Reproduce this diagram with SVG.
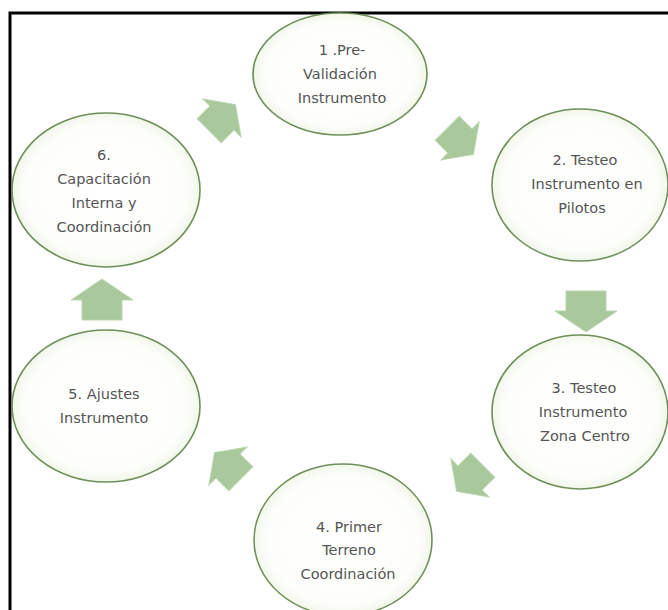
<svg xmlns="http://www.w3.org/2000/svg" width="668" height="610" viewBox="0 0 668 610">
<defs>
<radialGradient id="eg" cx="50%" cy="50%" r="50%">
<stop offset="0" stop-color="#ffffff"/>
<stop offset="0.85" stop-color="#fdfefb"/>
<stop offset="1" stop-color="#f1f7ea"/>
</radialGradient>
<path id="arw" d="M-20,-20 H0 V-31 L21,0 L0,31 V20 H-20 Z"/>
<path id="arwd" d="M-18,-17 H0 V-27 L19,0 L0,27 V17 H-18 Z"/>
</defs>
<style>
.n ellipse{fill:url(#eg);stroke:#6f8f58;stroke-width:1.6}
.n text{font-family:"DejaVu Sans","Liberation Sans",sans-serif;font-size:14.5px;fill:#555555;text-anchor:middle}
.a use{fill:#a9c89b;stroke:#bcd6b0;stroke-width:1}
</style>
<rect width="668" height="610" fill="#ffffff"/>
<path d="M10,610 V13 H668" fill="none" stroke="#000" stroke-width="3"/>
<g id="connectors" class="a">
<use href="#arwd" transform="translate(460,141) rotate(45)"/>
<use href="#arw" transform="translate(586,311) rotate(90)"/>
<use href="#arwd" transform="translate(470,478) rotate(135)"/>
<use href="#arwd" transform="translate(228,466) rotate(-135)"/>
<use href="#arw" transform="translate(102,300) rotate(-90)"/>
<use href="#arwd" transform="translate(222,118) rotate(-45)"/>
</g>
<g id="n1" class="n">
<ellipse cx="340" cy="74" rx="87" ry="61"/>
<text x="342" y="55">1 .Pre-</text>
<text x="340" y="79">Validación</text>
<text x="342" y="103">Instrumento</text>
</g>
<g id="n2" class="n">
<ellipse cx="580" cy="185" rx="88" ry="76"/>
<text x="585" y="165">2. Testeo</text>
<text x="587" y="189">Instrumento en</text>
<text x="582" y="213">Pilotos</text>
</g>
<g id="n3" class="n">
<ellipse cx="580" cy="412" rx="88" ry="77"/>
<text x="584" y="393">3. Testeo</text>
<text x="583" y="417">Instrumento</text>
<text x="585" y="441">Zona Centro</text>
</g>
<g id="n4" class="n">
<ellipse cx="343" cy="540" rx="89" ry="76"/>
<text x="349" y="532">4. Primer</text>
<text x="349" y="555">Terreno</text>
<text x="348" y="579">Coordinación</text>
</g>
<g id="n5" class="n">
<ellipse cx="106" cy="406" rx="94" ry="76"/>
<text x="104" y="399">5. Ajustes</text>
<text x="104" y="423">Instrumento</text>
</g>
<g id="n6" class="n">
<ellipse cx="106" cy="190" rx="94" ry="77"/>
<text x="104" y="160">6.</text>
<text x="104" y="184">Capacitación</text>
<text x="104" y="208">Interna y</text>
<text x="104" y="232">Coordinación</text>
</g>
</svg>
